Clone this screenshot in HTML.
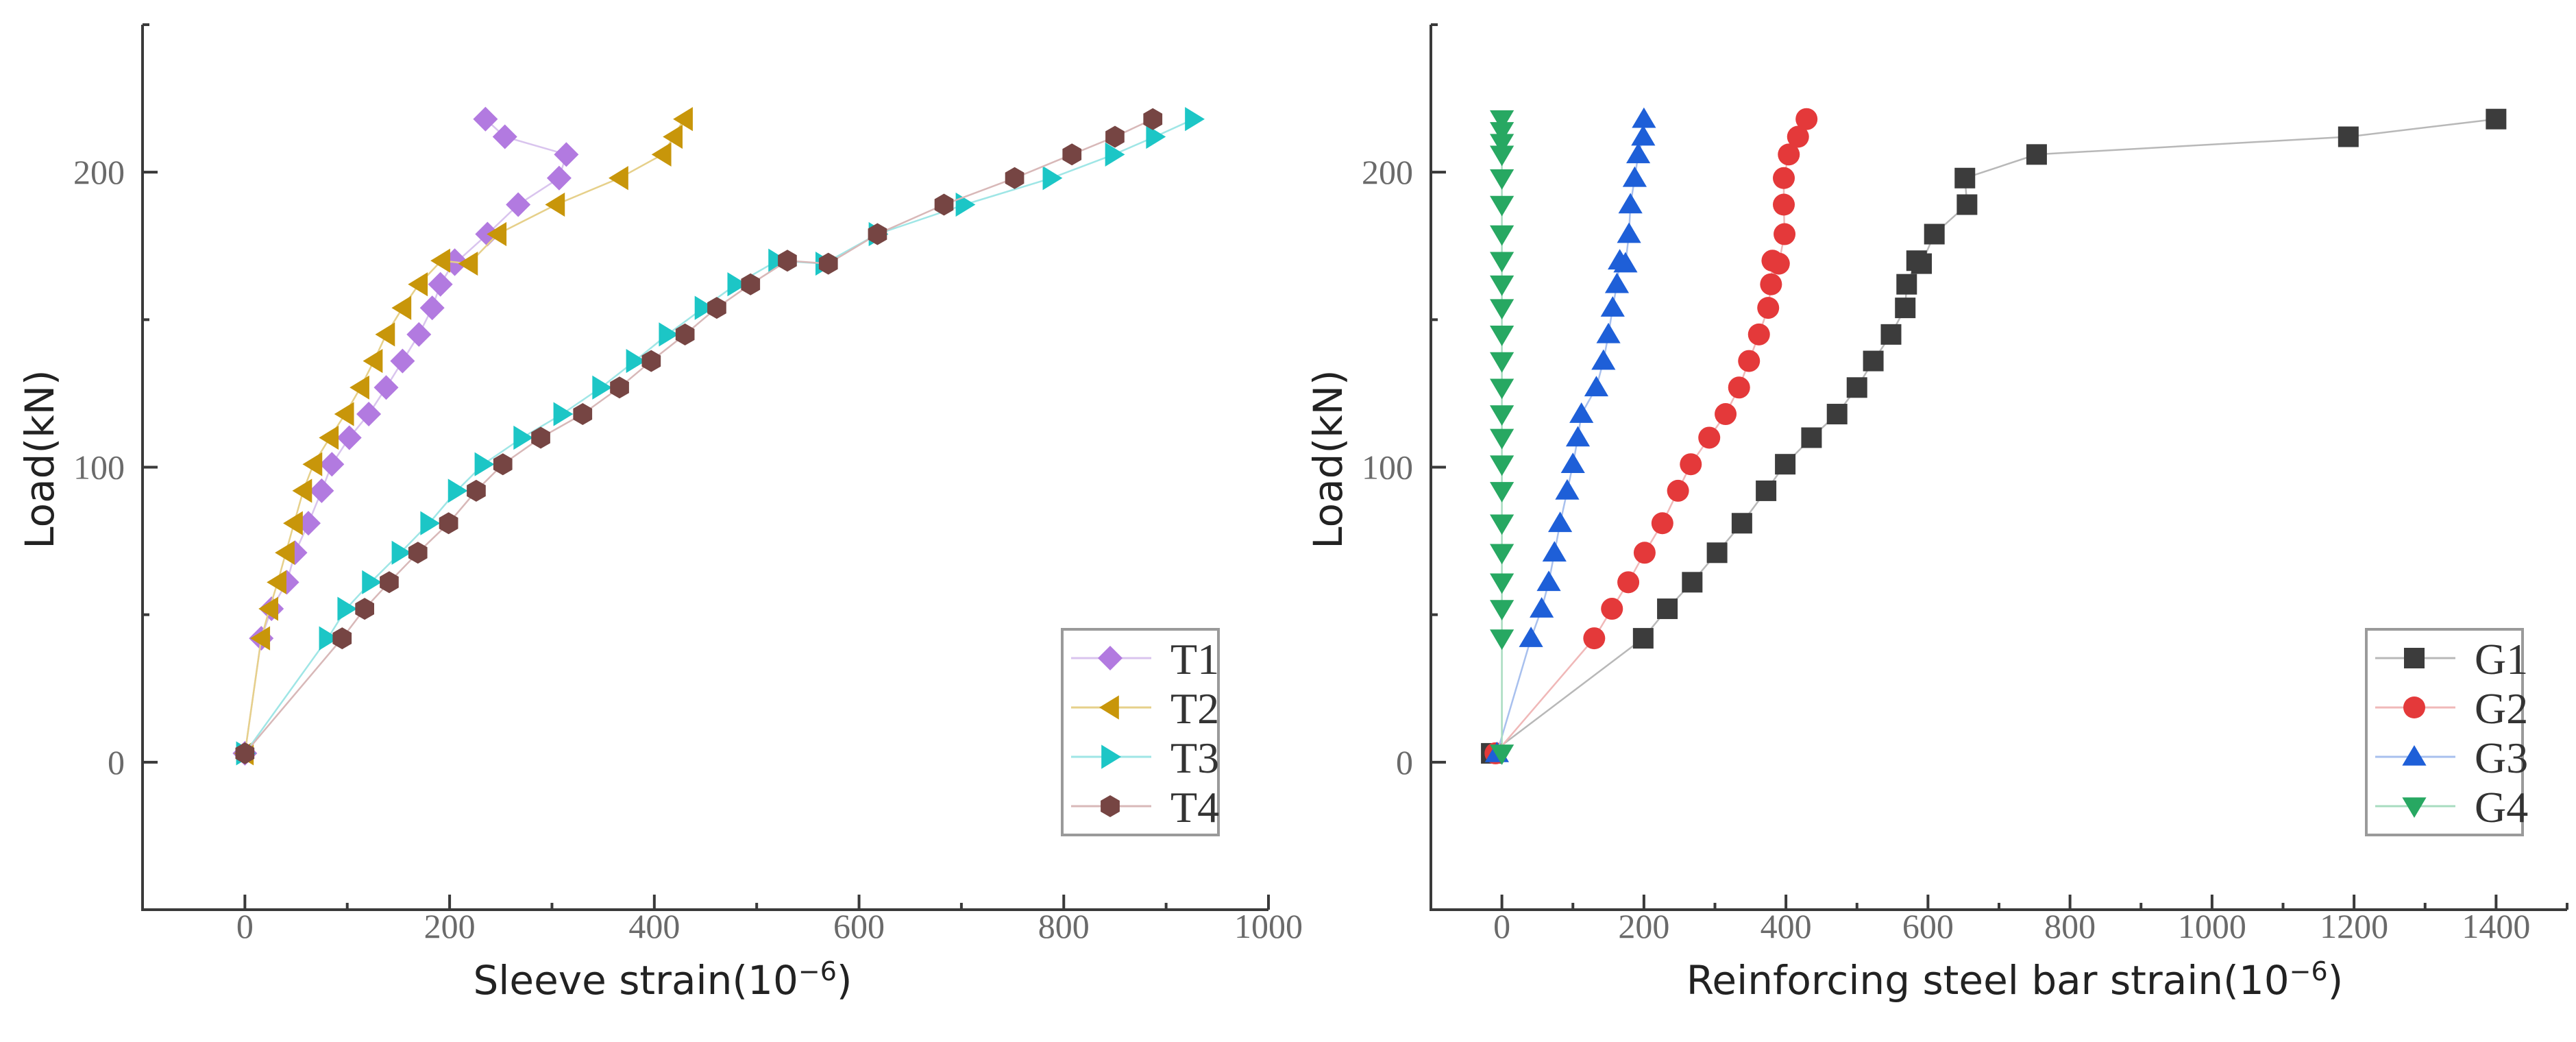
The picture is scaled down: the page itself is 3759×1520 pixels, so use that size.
<!DOCTYPE html>
<html><head><meta charset="utf-8">
<style>
html,body{margin:0;padding:0;background:#fff;}
svg{display:block;}
.tick{font-family:"Liberation Serif",serif;font-size:50px;fill:#6a6a6a;}
.title{font-family:"DejaVu Sans","Liberation Sans",sans-serif;font-size:58px;fill:#222;}
.leg{font-family:"Liberation Serif",serif;font-size:64px;fill:#333;}
</style></head>
<body>
<svg id="chart" width="3759" height="1520" viewBox="0 0 3759 1520" xmlns="http://www.w3.org/2000/svg">
</svg>
<script>
// shared load steps (kN)
const loads = [3,42,52,61,71,81,92,101,110,118,127,136,145,154,162,170,169,179,189,198,206,212,218];
// left chart: sleeve strain
const t1 = [0,16,26,41,49,62,75,85,102,121,138,154,170,183,191,205,205,237,267,307,314,254,235];
const t2 = [0,16,24,32,40,48,57,67,83,98,113,126,138,154,170,192,219,247,304,366,408,419,429];
const t3 = [0,81,99,123,152,180,207,233,271,310,348,381,413,448,480,520,566,618,703,788,849,889,927];
const t4 = [0,95,117,141,169,199,226,252,289,330,366,397,430,461,494,530,570,618,683,752,808,850,887];
// right chart: reinforcing bar strain
const g1 = [-15,199,233,268,303,338,372,399,436,472,500,523,548,568,570,584,591,609,655,652,753,1192,1400];
const g2 = [-9,130,155,178,201,226,248,266,292,315,334,348,362,375,379,381,390,398,397,397,404,417,429];
const g3 = [-7,41,56,66,74,82,92,100,107,112,133,143,150,156,162,166,174,179,181,187,192,199,200];
const g4 = [0,0,0,0,0,0,0,0,0,0,0,0,0,0,0,0,0,0,0,0,0,0,0];
const loadsG4 = [3,42,52,61,71,81,92,101,110,118,127,136,145,154,162,170,179,189,198,206,210,214,218];
const leftXTicks = [0,200,400,600,800,1000];
const rightXTicks = [0,200,400,600,800,1000,1200,1400];
const yTicks = [0,100,200];

const NS = "http://www.w3.org/2000/svg";
const svg = document.getElementById('chart');
function mk(tag, attrs, parent){
  const e = document.createElementNS(NS, tag);
  for (const k in attrs) e.setAttribute(k, attrs[k]);
  (parent||svg).appendChild(e);
  return e;
}
function marker(g, shape, cx, cy, color){
  const r = 16;
  let e;
  if (shape==='diamond') e = mk('polygon',{points:`${cx},${cy-r-2} ${cx+r+2},${cy} ${cx},${cy+r+2} ${cx-r-2},${cy}`,fill:color},g);
  else if (shape==='left') e = mk('polygon',{points:`${cx-r},${cy} ${cx+r*0.8},${cy-r*1.1} ${cx+r*0.8},${cy+r*1.1}`,fill:color},g);
  else if (shape==='right') e = mk('polygon',{points:`${cx+r},${cy} ${cx-r*0.8},${cy-r*1.1} ${cx-r*0.8},${cy+r*1.1}`,fill:color},g);
  else if (shape==='up') e = mk('polygon',{points:`${cx},${cy-r-1} ${cx+r*1.1},${cy+r*0.8} ${cx-r*1.1},${cy+r*0.8}`,fill:color},g);
  else if (shape==='down') e = mk('polygon',{points:`${cx},${cy+r+1} ${cx+r*1.1},${cy-r*0.8} ${cx-r*1.1},${cy-r*0.8}`,fill:color},g);
  else if (shape==='square') e = mk('rect',{x:cx-r+1,y:cy-r+1,width:2*r-2,height:2*r-2,fill:color},g);
  else if (shape==='hex'){
    let p=[];for(let i=0;i<6;i++){const a=Math.PI/6+i*Math.PI/3;p.push((cx+r*Math.cos(a)).toFixed(1)+','+(cy+r*Math.sin(a)).toFixed(1));}
    e = mk('polygon',{points:p.join(' '),fill:color},g);
  }
  else e = mk('circle',{cx:cx,cy:cy,r:r,fill:color},g);
  return e;
}

function chart(cfg){
  const {x0,x1,xmin,xmax,xTicks,xTitle,xTitleX,yTitleX,series,legend,name} = cfg;
  const yTop=36, yBot=1327, ymin=-50, ymax=250;
  const sx = v => x0 + (v-xmin)/(xmax-xmin)*(x1-x0);
  const sy = v => yBot - (v-ymin)/(ymax-ymin)*(yBot-yTop);
  const g = mk('g',{});
  
  
  const ax = mk('line',{x1:x0,y1:yBot,x2:x1,y2:yBot,stroke:'#3a3a3a','stroke-width':4},g);
   
  const ay = mk('line',{x1:x0,y1:yTop,x2:x0,y2:yBot+2,stroke:'#3a3a3a','stroke-width':4},g);
   
  const step = xTicks[1]-xTicks[0];
  for (let v=xmin; v<=xmax+0.1; v+=step/2){
    const major = xTicks.includes(v);
    mk('line',{x1:sx(v),y1:yBot,x2:sx(v),y2:yBot-(major?22:10),stroke:'#3a3a3a','stroke-width':4},g);
  }
  xTicks.forEach(v=>{
    const t = mk('text',{x:sx(v),y:1368,'text-anchor':'middle',class:'tick'},g);
    t.textContent = v;
     
  });
  for (let v=ymin; v<=ymax; v+=50){
    const major = yTicks.includes(v);
    mk('line',{x1:x0,y1:sy(v),x2:x0+(major?22:10),y2:sy(v),stroke:'#3a3a3a','stroke-width':4},g);
  }
  yTicks.forEach(v=>{
    const t = mk('text',{x:x0-26,y:sy(v)+17,'text-anchor':'end',class:'tick'},g);
    t.textContent = v;
     
  });
  const xt = mk('text',{x:xTitleX,y:1450,'text-anchor':'middle',class:'title'},g);
  xt.innerHTML = xTitle + '(10<tspan font-size="38" dy="-20">−6</tspan><tspan dy="20">)</tspan>';
   
  const yt = mk('text',{x:0,y:0,'text-anchor':'middle',class:'title',transform:`translate(${yTitleX},670) rotate(-90)`},g);
  yt.textContent = 'Load(kN)';
   
  series.forEach(s=>{
    const sg = mk('g',{},g);
    
    
    const pts = s.xs.map((v,i)=>sx(v).toFixed(1)+','+sy(s.ys[i]).toFixed(1)).join(' ');
    mk('polyline',{points:pts,fill:'none',stroke:s.line,'stroke-width':2.5},sg);
    s.xs.forEach((v,i)=>{
      const m = marker(sg, s.shape, sx(v), sy(s.ys[i]), s.color);
      
      
    });
  });
  const lg = mk('g',{},g);
  
  
  mk('rect',{x:legend.x,y:918,width:228,height:300,fill:'#fff',stroke:'#9a9a9a','stroke-width':4},lg);
  series.forEach((s,i)=>{
    const cy = 960 + i*72;
    const eg = mk('g',{},lg);
    
    
    mk('line',{x1:legend.x+13,y1:cy,x2:legend.x+130,y2:cy,stroke:s.line,'stroke-width':3},eg);
    marker(eg, s.shape, legend.x+70, cy, s.color);
    const t = mk('text',{x:legend.x+158,y:cy+23,class:'leg'},eg);
    t.textContent = s.label;
  });
}

chart({name:'sleeve-strain-chart',x0:208,x1:1851,xmin:-100,xmax:1000,xTicks:leftXTicks,
  xTitle:'Sleeve strain',xTitleX:967,yTitleX:78,legend:{x:1550},
  series:[
    {label:'T1',xs:t1,ys:loads,shape:'diamond',color:'#b27ae0',line:'#d9c4ee'},
    {label:'T2',xs:t2,ys:loads,shape:'left',color:'#c8960a',line:'#e6d08a'},
    {label:'T3',xs:t3,ys:loads,shape:'right',color:'#1cc6c6',line:'#9fe6e6'},
    {label:'T4',xs:t4,ys:loads,shape:'hex',color:'#764543',line:'#d8b8b8'}
  ]});
chart({name:'steel-bar-strain-chart',x0:2088,x1:3746,xmin:-100,xmax:1500,xTicks:rightXTicks,
  xTitle:'Reinforcing steel bar strain',xTitleX:2940,yTitleX:1958,legend:{x:3453},
  series:[
    {label:'G1',xs:g1,ys:loads,shape:'square',color:'#3c3c3c',line:'#b8b8b8'},
    {label:'G2',xs:g2,ys:loads,shape:'circle',color:'#e4393a',line:'#f0b8b8'},
    {label:'G3',xs:g3,ys:loads,shape:'up',color:'#1e5fd8',line:'#a8c0ee'},
    {label:'G4',xs:g4,ys:loadsG4,shape:'down',color:'#27a862',line:'#a8dcc0'}
  ]});
</script>
</body></html>
